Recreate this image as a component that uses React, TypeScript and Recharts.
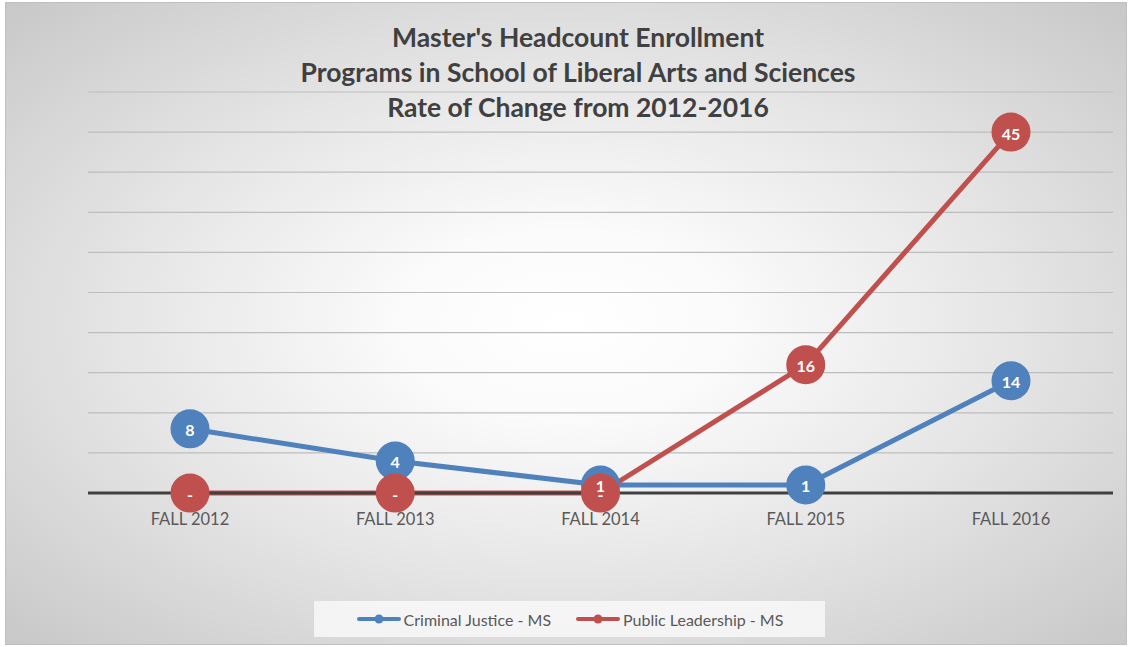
import React from "react";
import { LineChart, Line, XAxis, YAxis, CartesianGrid, Legend, LabelList } from "recharts";

const terms = ["FALL 2012", "FALL 2013", "FALL 2014", "FALL 2015", "FALL 2016"];
const criminalJustice = [8, 4, 1, 1, 14];
const publicLeadership = [0, 0, 0, 16, 45];
const yTicks = [0, 5, 10, 15, 20, 25, 30, 35, 40, 45, 50];
const titleLines = [
    "Master's Headcount Enrollment",
    "Programs in School of Liberal Arts and Sciences",
    "Rate of Change from 2012-2016",
];

const CJ_COLOR = "#4f81bd";
const PL_COLOR = "#c0504d";
const FONT = "Lato, 'Open Sans', sans-serif";

const data = terms.map((t, i) => ({ term: t, cj: criminalJustice[i], pl: publicLeadership[i] }));

const fmt = (v: unknown) => (v === 0 ? "-" : String(v));

function DotLabel(props: any) {
    const { x, y, value } = props;
    return (
        <text x={x} y={y + 1} textAnchor="middle" dominantBaseline="central" fill="#fff" fontSize={16} fontWeight={700} fontFamily={FONT}>
            {fmt(value)}
        </text>
    );
}

function LegendBox() {
    const items = [
        { label: "Criminal Justice - MS", color: CJ_COLOR },
        { label: "Public Leadership - MS", color: PL_COLOR },
    ];
    return (
        <div style={{ display: "flex", alignItems: "center", justifyContent: "center", gap: 24, background: "rgba(250,250,250,0.8)", height: 36, fontFamily: FONT, fontSize: 16, color: "#595959" }}>
            {items.map(it => (
                <div key={it.label} style={{ display: "flex", alignItems: "center" }}>
                    <svg width={46} height={12}>
                        <line x1={3} y1={6} x2={43} y2={6} stroke={it.color} strokeWidth={4} strokeLinecap="round" />
                        <circle cx={23} cy={6} r={4.5} fill={it.color} />
                    </svg>
                    <span style={{ marginLeft: 2 }}>{it.label}</span>
                </div>
            ))}
        </div>
    );
}

export default function App() {
    return (
        <div style={{ position: "absolute", left: 0, top: 0, width: 1130, height: 647, background: "#fff" }}>
            <div
                style={{
                    position: "absolute",
                    left: 5,
                    top: 2,
                    width: 1120,
                    height: 641,
                    border: "1px solid #bfbfbf",
                    background: "radial-gradient(ellipse at 50% 50%, #ffffff 0%, #fbfbfb 20%, #e6e6e6 55%, #c8c8c8 100%)",
                }}
            />
            <div style={{ position: "absolute", left: 0, top: 20, width: 1156, textAlign: "center", fontFamily: FONT, fontWeight: 700, fontSize: 26.5, lineHeight: "35px", color: "#404040" }}>
                {titleLines.map(l => (
                    <div key={l}>{l}</div>
                ))}
            </div>
            <div style={{ position: "absolute", left: 0, top: 0 }}>
                <LineChart width={1130} height={647} data={data} margin={{ top: 92, right: 17, left: 88, bottom: 88 }}>
                    <CartesianGrid vertical={false} stroke="#bdbdbd" strokeWidth={1.2} />
                    <XAxis
                        dataKey="term"
                        axisLine={{ stroke: "#404040", strokeWidth: 3 }}
                        tickLine={false}
                        tick={{ fontSize: 16.5, fill: "#595959", fontFamily: FONT }}
                        tickMargin={14}
                        padding={{ left: 102, right: 102 }}
                    />
                    <YAxis hide domain={[0, 50]} ticks={yTicks} />
                    <Line dataKey="cj" name="Criminal Justice - MS" stroke={CJ_COLOR} strokeWidth={5} dot={{ r: 17, fill: CJ_COLOR, stroke: CJ_COLOR }} activeDot={false} isAnimationActive={false} />
                    <Line dataKey="pl" name="Public Leadership - MS" stroke={PL_COLOR} strokeWidth={5} dot={{ r: 17, fill: PL_COLOR, stroke: PL_COLOR }} activeDot={false} isAnimationActive={false}>
                        <LabelList dataKey="pl" content={DotLabel} />
                    </Line>
                    <Line dataKey="cj" stroke="none" dot={false} activeDot={false} legendType="none" isAnimationActive={false}>
                        <LabelList dataKey="cj" content={DotLabel} />
                    </Line>
                    <Legend
                        content={LegendBox}
                        wrapperStyle={{ top: 601, bottom: "auto", left: 314, width: 511, height: 36 }}
                    />
                </LineChart>
            </div>
        </div>
    );
}
